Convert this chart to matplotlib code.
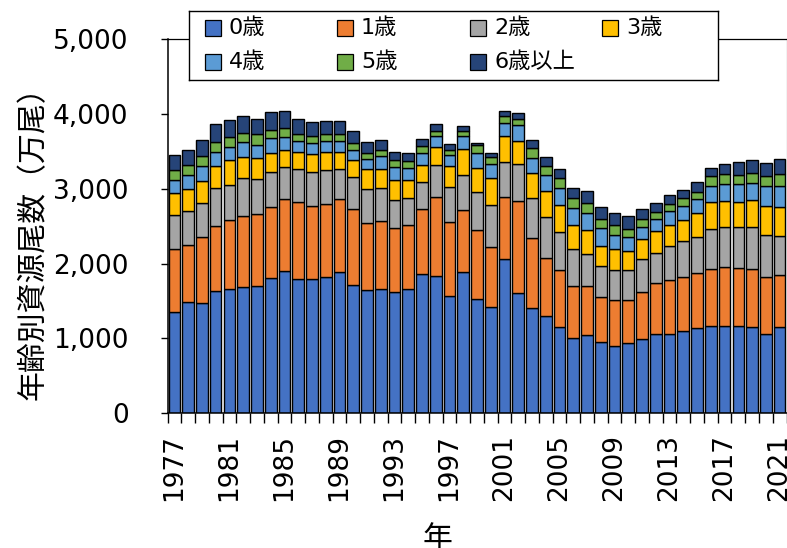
import numpy as np
import matplotlib
matplotlib.use("Agg")
import matplotlib.pyplot as plt
from matplotlib.patches import Rectangle
from matplotlib.ticker import FuncFormatter

# data (万尾), 1977-2021
years = list(range(1977, 2022))
age0 = [1349, 1482, 1478, 1633, 1655, 1691, 1700, 1811, 1904, 1789,
        1789, 1824, 1891, 1713, 1647, 1660, 1624, 1655, 1855, 1838,
        1571, 1882, 1522, 1424, 2060, 1611, 1411, 1300, 1149, 1006,
        1047, 958, 904, 940, 993, 1060, 1060, 1095, 1136, 1171,
        1171, 1171, 1158, 1060, 1149]
age1 = [840, 765, 880, 867, 925, 942, 960, 947, 965, 1035,
        978, 978, 978, 1022, 897, 906, 845, 858, 872, 1053,
        978, 831, 925, 791, 835, 1222, 929, 773, 769, 698,
        657, 591, 609, 578, 627, 675, 724, 720, 737, 760,
        778, 764, 769, 764, 697]
age2 = [466, 457, 453, 511, 466, 511, 475, 466, 422, 436,
        457, 453, 395, 423, 458, 445, 386, 369, 364, 422,
        475, 476, 510, 574, 467, 498, 542, 547, 506, 489,
        423, 422, 396, 395, 440, 405, 445, 485, 485, 533,
        533, 547, 564, 556, 525]
age3 = [289, 298, 293, 289, 334, 280, 276, 254, 231, 231,
        236, 236, 222, 222, 258, 258, 258, 240, 222, 245,
        280, 337, 325, 360, 338, 311, 329, 351, 360, 320,
        324, 267, 284, 258, 267, 289, 284, 284, 315, 356,
        356, 342, 360, 391, 387]
age4 = [178, 187, 196, 191, 178, 200, 178, 199, 169, 142,
        155, 146, 151, 133, 133, 169, 178, 160, 165, 142,
        151, 174, 200, 177, 178, 209, 195, 213, 231, 236,
        222, 231, 191, 178, 159, 164, 191, 191, 191, 222,
        222, 236, 231, 262, 280]
age5 = [124, 124, 138, 133, 133, 120, 137, 112, 124, 93,
        85, 89, 98, 98, 85, 84, 89, 89, 88, 71,
        67, 71, 98, 98, 88, 80, 138, 116, 129, 124,
        133, 124, 134, 111, 107, 98, 98, 103, 98, 129,
        133, 124, 124, 138, 155]
age6 = [200, 209, 217, 236, 222, 222, 209, 235, 222, 209,
        191, 178, 169, 160, 146, 133, 111, 107, 103, 98,
        71, 62, 35, 58, 71, 80, 103, 124, 125, 142,
        165, 165, 160, 173, 142, 124, 111, 111, 129, 107,
        142, 174, 183, 173, 200]

labels = ["0歳", "1歳", "2歳", "3歳", "4歳", "5歳", "6歳以上"]
colors = ["#4472C4", "#ED7D31", "#A5A5A5", "#FFC000", "#5B9BD5", "#70AD47", "#264478"]
series = [age0, age1, age2, age3, age4, age5, age6]

W, H = 787, 548
fig = plt.figure(figsize=(W / 100, H / 100), dpi=100)
ax = fig.add_axes([167.5 / W, 1 - 413.3 / H, 619 / W, (413.3 - 39) / H])

x = np.arange(len(years))
bottom = np.zeros(len(years))
for vals, lab, col in zip(series, labels, colors):
    ax.bar(x, vals, bottom=bottom, width=0.85, color=col, edgecolor="black",
           linewidth=1.0, label=lab, zorder=2)
    bottom += np.array(vals)

ax.set_xlim(-0.5, len(years) - 0.5)
ax.set_ylim(0, 5000)

# axes frame
for side in ["left", "bottom"]:
    ax.spines[side].set_color("black")
    ax.spines[side].set_linewidth(1.1)
ax.spines["top"].set_color("black")
ax.spines["top"].set_linewidth(0.9)
ax.spines["right"].set_color("#999999")
ax.spines["right"].set_linewidth(0.9)
ax.spines["right"].set_zorder(1)

ax.set_yticks(range(0, 5001, 1000))
ax.yaxis.set_major_formatter(FuncFormatter(lambda v, p: f"{v:,.0f}"))
ax.tick_params(axis="y", direction="out", length=5, width=1.0, pad=23,
               labelsize=19, colors="black")

lab_idx = list(range(0, len(years), 4))
ax.set_xticks(lab_idx)
ax.set_xticklabels([str(years[i]) for i in lab_idx], rotation=90)
ax.set_xticks(np.arange(-0.5, len(years), 1), minor=True)
ax.tick_params(axis="x", which="major", length=0, pad=15, labelsize=19)
ax.tick_params(axis="x", which="minor", direction="out", length=7, width=1.0)
for t in ax.get_xticklabels() + ax.get_yticklabels():
    t.set_family("DejaVu Sans")

fig.text(33 / W, 1 - 236 / H, "年齢別資源尾数（万尾）", rotation=90,
         ha="center", va="center", fontsize=21.5, family="Noto Sans CJK JP")
fig.text(437 / W, 1 - 523 / H, "年", ha="center", va="top",
         fontsize=21.5, family="Noto Sans CJK JP")

# legend drawn as a box with fixed-width columns
lax = fig.add_axes([189 / W, 1 - 80 / H, (718 - 189) / W, (80 - 11) / H])
lax.set_xlim(189, 718)
lax.set_ylim(80, 11)
lax.set_xticks([])
lax.set_yticks([])
for s in lax.spines.values():
    s.set_color("black")
    s.set_linewidth(1.0)
col_x = [205, 337, 470, 602]
row_y = [28, 62]
order = [(0, 0), (0, 1), (0, 2), (0, 3), (1, 0), (1, 1), (1, 2)]
for (r, c), lab, col in zip(order, labels, colors):
    lax.add_patch(Rectangle((col_x[c], row_y[r] - 8), 16, 16, facecolor=col,
                            edgecolor="black", linewidth=0.9))
    lax.text(col_x[c] + 24, row_y[r], lab, ha="left", va="center", fontsize=16,
             family=["DejaVu Sans", "Noto Sans CJK JP"])

fig.savefig("out.png", dpi=100)
